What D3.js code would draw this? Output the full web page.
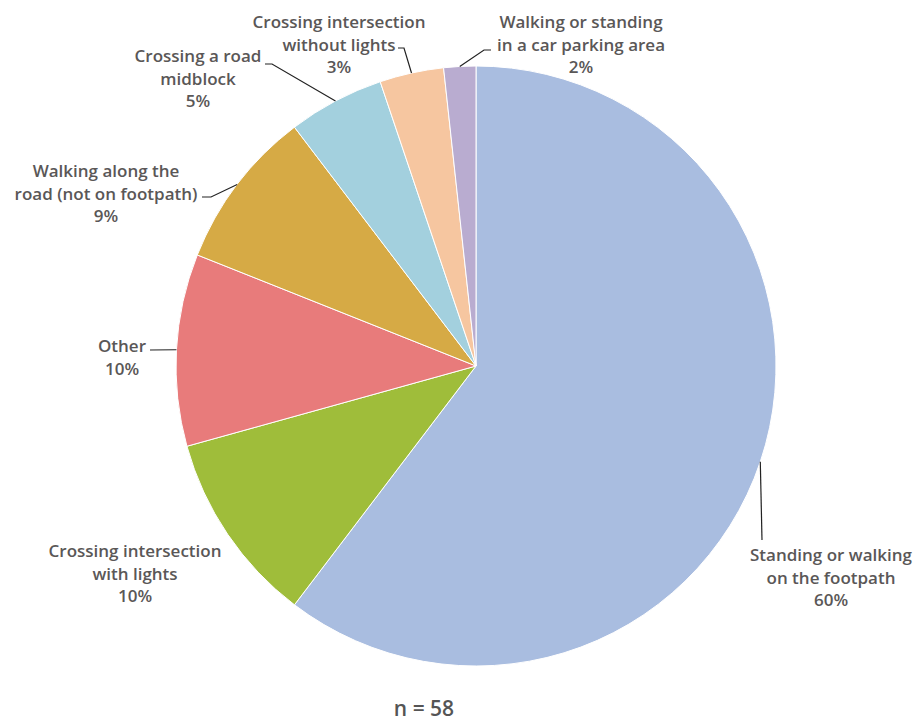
<!DOCTYPE html>
<html>
<head>
  <title>Pedestrian location pie</title>
  <script src="https://d3js.org/d3.v7.min.js"></script>
  <style>
  body {
    margin: 0;
    background: #fff;
  }

  .label {
    font-family: "Open Sans", Lato, sans-serif;
    font-weight: 600;
    font-size: 17px;
    fill: #5a5757;
  }

  .leader {
    fill: none;
    stroke: #222;
    stroke-width: 1.2;
  }
  </style>
</head>
<body>
  <script>

    // data, clockwise from 12 o'clock (n = 58)
    var categories = [
      "Standing or walking|on the footpath",
      "Crossing intersection|with lights",
      "Other",
      "Walking along the|road (not on footpath)",
      "Crossing a road|midblock",
      "Crossing intersection|without lights",
      "Walking or standing|in a car parking area"
    ];
    var counts = [35, 6, 6, 5, 3, 2, 1];
    var percentLabels = ["60%", "10%", "10%", "9%", "5%", "3%", "2%"];
    var colors = ["#a9bde0", "#9fbd3a", "#e87b7b", "#d6aa45", "#a3d0de", "#f6c6a0", "#b9acd0"];
    var total = 58;

    // label layout: text centre x, first line y, leader elbow + end (null = no leader)
    var labelLayout = [
      { x: 831, y: 561, leader: [[762, 540]] },
      { x: 135, y: 557, leader: null },
      { x: 122, y: 352, leader: [[150, 350]] },
      { x: 106, y: 177, leader: [[211, 197], [202, 197]] },
      { x: 198, y: 62, leader: [[272, 64], [265, 64]] },
      { x: 339, y: 28, leader: [[404, 48], [398, 48]] },
      { x: 581, y: 28, leader: [[484, 50], [491, 50]] }
    ];

    var width = 919;
    var height = 724;
    var cx = 476, cy = 366, radius = 300;

    var svg = d3.select("body")
      .append("svg")
      .attr("width", width)
      .attr("height", height);

    var pie = d3.pie()
      .sort(null)
      .value(function(d) { return d; });

    var arc = d3.arc()
      .innerRadius(0)
      .outerRadius(radius);

    var arcs = pie(counts);

    var g = svg.append("g")
      .attr("transform", "translate(" + cx + "," + cy + ")");

    g.selectAll("path")
      .data(arcs)
      .enter()
      .append("path")
      .attr("d", arc)
      .attr("fill", function(d, i) { return colors[i]; })
      .attr("stroke", "#fff")
      .attr("stroke-width", 1);

    // leader lines from the rim at each slice's mid angle
    arcs.forEach(function(d, i) {
      var lay = labelLayout[i];
      if (!lay.leader) return;
      var mid = (d.startAngle + d.endAngle) / 2;
      var pts = [[cx + radius * Math.sin(mid), cy - radius * Math.cos(mid)]].concat(lay.leader);
      svg.append("path")
        .attr("class", "leader")
        .attr("d", d3.line()(pts));
    });

    // labels
    categories.forEach(function(c, i) {
      var lay = labelLayout[i];
      var lines = c.split("|").concat([percentLabels[i]]);
      var t = svg.append("text")
        .attr("class", "label")
        .attr("text-anchor", "middle")
        .attr("x", lay.x)
        .attr("y", lay.y);
      lines.forEach(function(l, j) {
        t.append("tspan")
          .attr("x", lay.x)
          .attr("dy", j === 0 ? 0 : 22.5)
          .text(l);
      });
    });

    svg.append("text")
      .attr("x", 424)
      .attr("y", 716)
      .attr("text-anchor", "middle")
      .style("font-family", "'Open Sans', Lato, sans-serif")
      .style("font-weight", 600)
      .style("font-size", "21px")
      .style("fill", "#555")
      .text("n = " + total);
  </script>
</body>
</html>
